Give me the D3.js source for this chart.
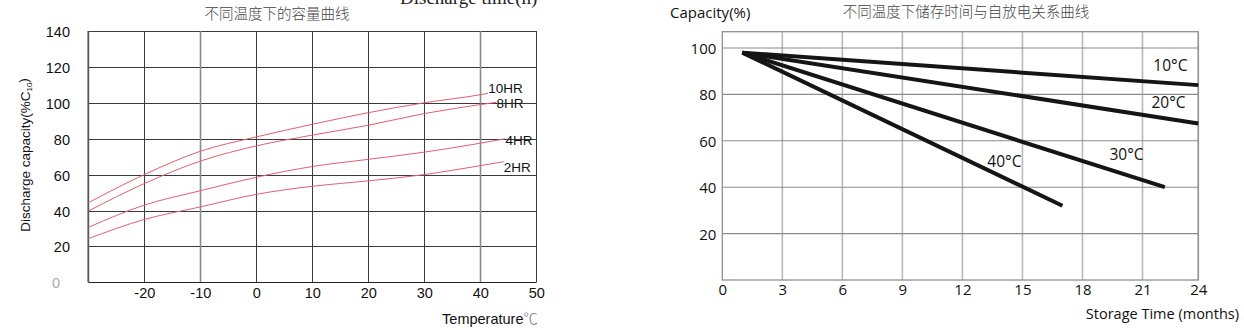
<!DOCTYPE html>
<html><head><meta charset="utf-8">
<script src="https://cdn.jsdelivr.net/npm/d3@7/dist/d3.min.js"></script>
<style>
body{margin:0;background:#fff;}
svg{display:block;}
</style></head>
<body>
<svg id="c" width="1244" height="328"></svg>
<script>
// ---------- Left chart data ----------
const leftTitle = "不同温度下的容量曲线";
const leftTopText = "Discharge time(h)";
const leftYTicks = [0, 20, 40, 60, 80, 100, 120, 140];
const leftXTicks = [-20, -10, 0, 10, 20, 30, 40, 50];
const rateNames = ["10HR", "8HR", "4HR", "2HR"];
const series10HR = [[-30,44.3],[-20,60],[-10,73],[0,81],[10,88],[20,94.5],[30,100],[40,104.5],[41.4,105.3]];
const series8HR  = [[-30,39.7],[-20,55],[-10,67.5],[0,76],[10,82],[20,87.5],[30,94],[40,99],[42.9,100.3]];
const series4HR  = [[-30,30.6],[-20,43],[-10,51],[0,58.5],[10,64.5],[20,68.5],[30,72.5],[40,77.5],[44.5,80]];
const series2HR  = [[-30,24.3],[-20,35],[-10,42],[0,49],[10,53.5],[20,56.5],[30,60],[40,65],[44.2,67.2]];

// ---------- Right chart data ----------
const rightTitle = "不同温度下储存时间与自放电关系曲线";
const rightYTicks = [20, 40, 60, 80, 100];
const rightXTicks = [0, 3, 6, 9, 12, 15, 18, 21, 24];
const storageTemps = ["10°C", "20°C", "30°C", "40°C"];
const startMonth = [1, 1, 1, 1];
const startCapacity = [98, 98, 98, 98];
const endMonth = [24, 24, 22.2, 17];
const endCapacity = [84, 67.5, 40, 32];

const svg = d3.select("#c");
svg.append("rect").attr("width",1244).attr("height",328).attr("fill","#fff");

// ================= LEFT CHART =================
{
  const x = d3.scaleLinear().domain([-30, 50]).range([88.3, 536.3]);
  const y = d3.scaleLinear().domain([0, 140]).range([282.3, 31]);
  const g = svg.append("g");
  const font = "'Liberation Sans', Arial, sans-serif";

  g.selectAll("line.hg").data(leftYTicks.filter(d => d > 0)).join("line")
    .attr("x1", x(-30)).attr("x2", x(50))
    .attr("y1", d => Math.round(y(d)) + 0.5).attr("y2", d => Math.round(y(d)) + 0.5)
    .attr("stroke", "#3a3a3a").attr("stroke-width", 1);
  g.selectAll("line.vg").data(leftXTicks).join("line")
    .attr("x1", d => Math.round(x(d)) + 0.5).attr("x2", d => Math.round(x(d)) + 0.5)
    .attr("y1", y(140)).attr("y2", y(0))
    .attr("stroke", d => (d === -10 || d === 40) ? "#8a8a8a" : "#3a3a3a")
    .attr("stroke-width", d => (d === -10 || d === 40) ? 1.6 : 1);
  g.append("line").attr("x1", x(-30)).attr("x2", x(50)).attr("y1", Math.round(y(0)) + 0.5).attr("y2", Math.round(y(0)) + 0.5)
    .attr("stroke", "#222").attr("stroke-width", 1.2);
  g.append("line").attr("x1", x(-30)).attr("x2", x(-30)).attr("y1", y(140)).attr("y2", y(0))
    .attr("stroke", "#555").attr("stroke-width", 1.8);

  const fmt = d => String(d);
  const yAxis = g.append("g").attr("transform", "translate(70,0)")
    .call(d3.axisLeft(y).tickValues(leftYTicks).tickFormat(fmt).tickSize(0).tickPadding(0));
  yAxis.select(".domain").remove();
  yAxis.selectAll("text").attr("font-family", font).attr("font-size", 14.5)
    .attr("fill", d => d === 0 ? "#aaa" : "#111")
    .attr("dx", d => d === 0 ? -10 : 0).attr("dy", "0.38em");

  const xAxis = g.append("g").attr("transform", `translate(0,${y(0)})`)
    .call(d3.axisBottom(x).tickValues(leftXTicks).tickFormat(fmt).tickSize(0).tickPadding(5));
  xAxis.select(".domain").remove();
  xAxis.selectAll("text").attr("font-family", font).attr("font-size", 14.5).attr("fill", "#111");

  const line = d3.line().x(d => x(d[0])).y(d => y(d[1])).curve(d3.curveMonotoneX);
  const allSeries = [series10HR, series8HR, series4HR, series2HR];
  g.selectAll("path.curve").data(allSeries).join("path")
    .attr("d", line).attr("fill", "none")
    .attr("stroke", "#e0606e").attr("stroke-width", 1);

  const labelDy = [-5, 0.5, 1.5, 5];
  g.selectAll("text.rate").data(rateNames).join("text")
    .attr("x", (d, i) => x(allSeries[i][allSeries[i].length - 1][0]))
    .attr("y", (d, i) => y(allSeries[i][allSeries[i].length - 1][1]) + labelDy[i])
    .attr("dy", "0.36em")
    .attr("font-family", font).attr("font-size", 13.5).attr("fill", "#111")
    .text(d => d);

  g.append("text").attr("x", 277).attr("y", 14).attr("dy", "0.36em")
    .attr("text-anchor", "middle").attr("font-family", "'Noto Sans CJK SC', sans-serif")
    .attr("font-size", 14.5).attr("font-weight", 300).attr("fill", "#444").text(leftTitle);
  g.append("text").attr("x", 400).attr("y", 4)
    .attr("font-family", "'Liberation Serif', 'Times New Roman', serif")
    .attr("font-size", 19).attr("fill", "#222").text(leftTopText);

  const yt = g.append("text").attr("transform", "translate(25,155) rotate(-90)")
    .attr("text-anchor", "middle").attr("dy", "0.36em")
    .attr("font-family", font).attr("font-size", 13.5).attr("fill", "#111");
  yt.append("tspan").text("Discharge capacity(%C");
  yt.append("tspan").attr("font-size", 8).attr("dy", "0.25em").text("10");
  yt.append("tspan").attr("dy", "-0.3em").text(")");

  const xt = g.append("text").attr("x", 538).attr("y", 319).attr("dy", "0.36em")
    .attr("text-anchor", "end").attr("font-family", font).attr("font-size", 14.5).attr("fill", "#111");
  xt.append("tspan").text("Temperature");
  xt.append("tspan").attr("fill", "#777").attr("font-family", "'Noto Sans CJK SC', sans-serif").attr("font-weight", 300).text("℃");
}

// ================= RIGHT CHART =================
{
  const x = d3.scaleLinear().domain([0, 21, 24]).range([722.3, 1142.5, 1198.3]);
  const y = d3.scaleLinear().domain([0, 100]).range([280, 48]);
  const top = 31.7;
  const g = svg.append("g");
  const font = "'Open Sans', 'Noto Sans', sans-serif";

  g.selectAll("line.vg").data(rightXTicks.filter(d => d > 0)).join("line")
    .attr("x1", d => x(d)).attr("x2", d => x(d))
    .attr("y1", top).attr("y2", y(0))
    .attr("stroke", "#b8b8b8").attr("stroke-width", 1.6);
  g.selectAll("line.hg").data(rightYTicks).join("line")
    .attr("x1", x(0)).attr("x2", x(24))
    .attr("y1", d => y(d)).attr("y2", d => y(d))
    .attr("stroke", "#8c8c8c").attr("stroke-width", 1.1);
  g.append("rect").attr("x", x(0)).attr("y", top).attr("width", x(24) - x(0)).attr("height", y(0) - top)
    .attr("fill", "none").attr("stroke", "#909090").attr("stroke-width", 1.3);

  const yAxis = g.append("g").attr("transform", `translate(${x(0) - 6},0)`)
    .call(d3.axisLeft(y).tickValues(rightYTicks).tickSize(0).tickPadding(0));
  yAxis.select(".domain").remove();
  yAxis.selectAll("text").attr("font-family", font).attr("font-size", 15).attr("fill", "#111").attr("dy", "0.36em");

  const xAxis = g.append("g").attr("transform", `translate(0,${y(0)})`)
    .call(d3.axisBottom(x).tickValues(rightXTicks).tickSize(0).tickPadding(4));
  xAxis.select(".domain").remove();
  xAxis.selectAll("text").attr("font-family", font).attr("font-size", 15).attr("fill", "#111");

  g.selectAll("line.s").data(storageTemps).join("line")
    .attr("x1", (d, i) => x(startMonth[i])).attr("y1", (d, i) => y(startCapacity[i]))
    .attr("x2", (d, i) => x(endMonth[i])).attr("y2", (d, i) => y(endCapacity[i]))
    .attr("stroke", "#151515").attr("stroke-width", 4).attr("stroke-linecap", "butt");

  const labelMonth = [22.5, 22.4, 20.2, 14.1];
  const labelCap = [92.7, 76.4, 54.3, 51.3];
  g.selectAll("text.lab").data(storageTemps).join("text")
    .attr("x", (d, i) => x(labelMonth[i])).attr("y", (d, i) => y(labelCap[i]))
    .attr("dy", "0.36em").attr("text-anchor", "middle")
    .attr("font-family", font).attr("font-size", 15.5).attr("fill", "#111").text(d => d);

  g.append("text").attr("x", 670).attr("y", 13).attr("dy", "0.36em")
    .attr("font-family", font).attr("font-size", 15).attr("fill", "#111").text("Capacity(%)");
  g.append("text").attr("x", 966).attr("y", 11.5).attr("dy", "0.36em").attr("text-anchor", "middle")
    .attr("font-family", "'Noto Sans CJK SC', sans-serif").attr("font-weight", 300)
    .attr("font-size", 14.5).attr("fill", "#444").text(rightTitle);
  g.append("text").attr("x", 1239).attr("y", 314).attr("dy", "0.36em").attr("text-anchor", "end")
    .attr("font-family", font).attr("font-size", 14.5).attr("fill", "#111").text("Storage Time (months)");
}
</script>
</body></html>
